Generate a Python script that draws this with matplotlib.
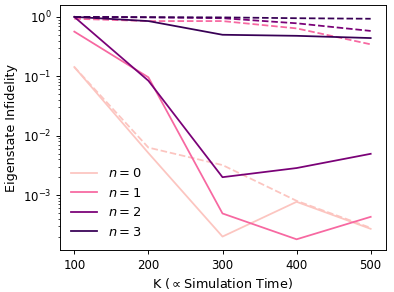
import matplotlib.pyplot as plt
import numpy as np

K = [100, 200, 300, 400, 500]
labels = ['$n=0$', '$n=1$', '$n=2$', '$n=3$']
colors = ['#fcc5c0', '#f768a1', '#7a0177', '#380055']

# solid lines
solid = [
    [0.143, 0.0051, 2.0e-4, 7.7e-4, 2.7e-4],
    [0.565, 0.096, 4.9e-4, 1.8e-4, 4.3e-4],
    [1.0, 0.084, 2.0e-3, 2.85e-3, 4.95e-3],
    [1.0, 0.85, 0.50, 0.48, 0.44],
]
# dashed lines
dashed = [
    [0.143, 6.3e-3, 3.2e-3, 8.0e-4, 2.8e-4],
    [0.93, 0.85, 0.85, 0.64, 0.345],
    [1.0, 0.98, 0.95, 0.78, 0.58],
    [1.0, 0.99, 0.98, 0.95, 0.93],
]

dpi = 85
fig = plt.figure(figsize=(394 / dpi, 292 / dpi), dpi=dpi)
ax = fig.add_axes([59.5 / 394, 1 - 250.3 / 292, 326 / 394, 245 / 292])

for i in range(4):
    ax.plot(K, solid[i], color=colors[i], lw=1.5, label=labels[i])
    ax.plot(K, dashed[i], color=colors[i], lw=1.5, ls='--')

ax.set_yscale('log')
ax.set_ylim(10**-3.93, 10**0.195)
ax.set_xlim(80, 520)
ax.set_xticks(K)
ax.set_xlabel('K ($\\propto$Simulation Time)', fontsize=10.8)
ax.set_ylabel('Eigenstate Infidelity', fontsize=10.8)
ax.legend(loc='lower left', frameon=False, fontsize=11)

plt.savefig('out.png', dpi=dpi)
